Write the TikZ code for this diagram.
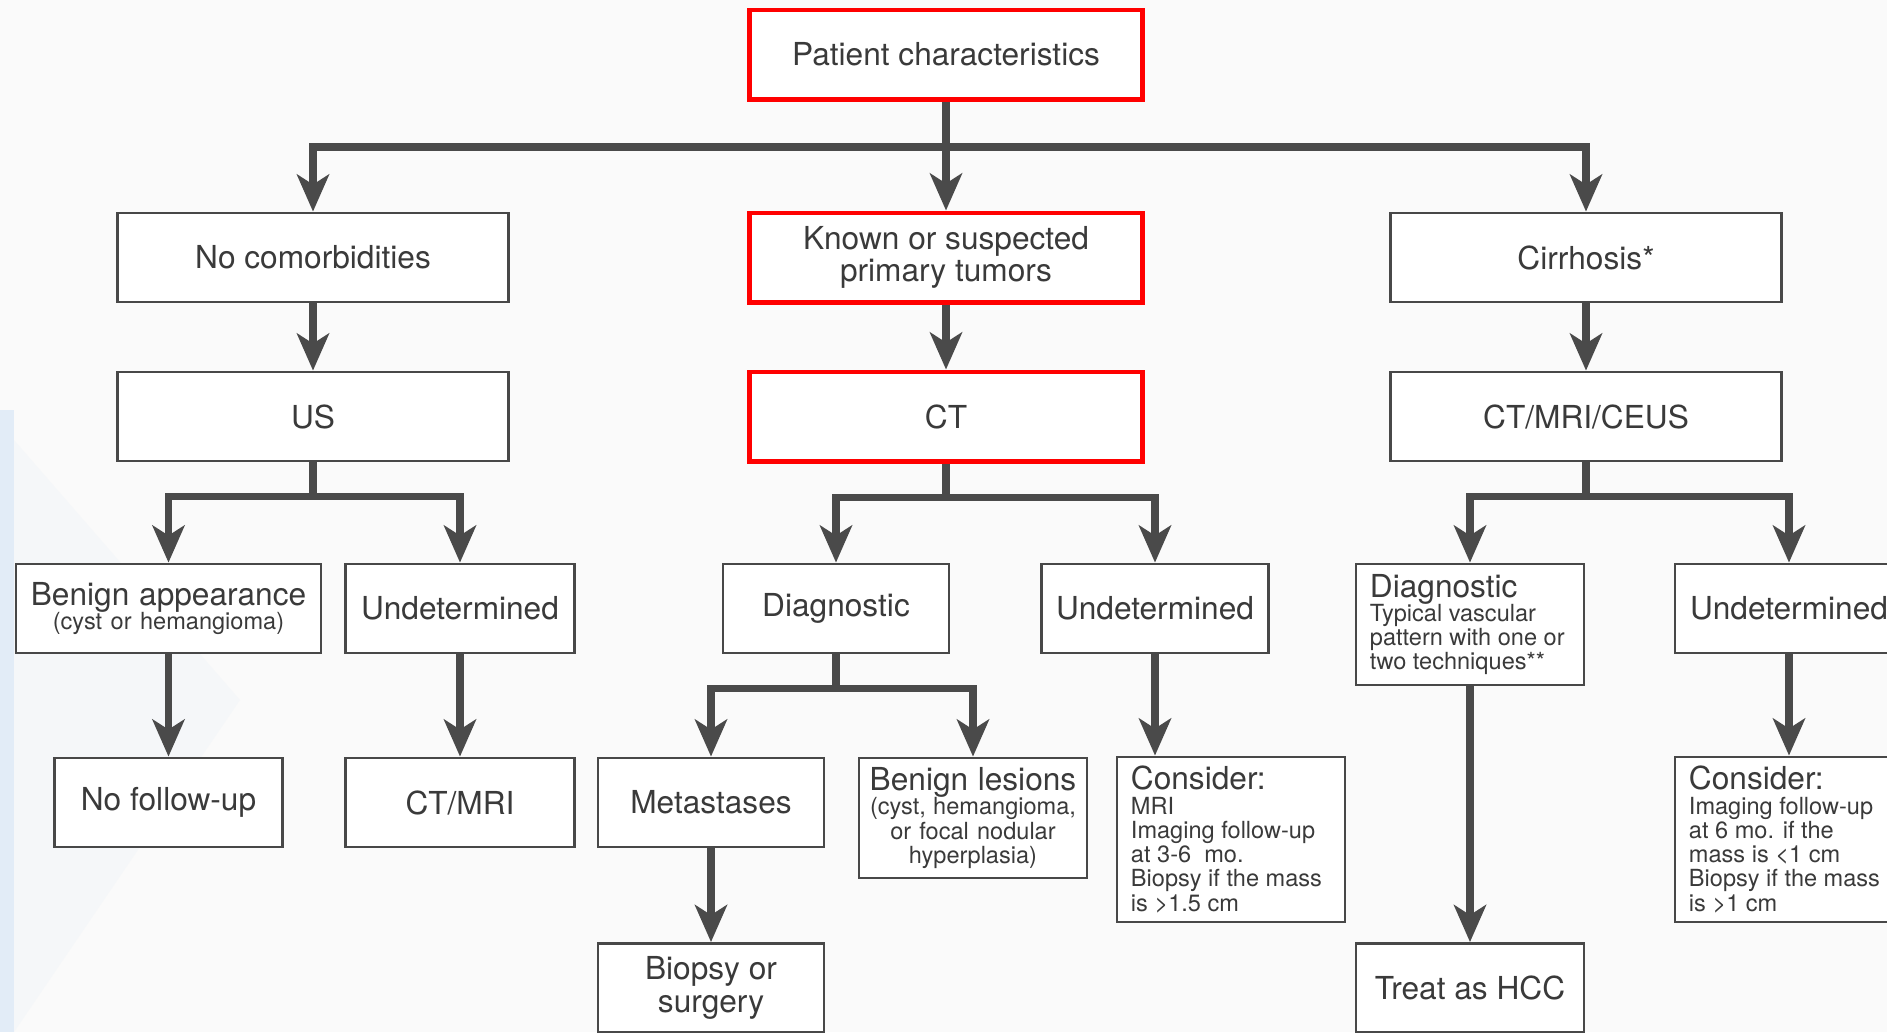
\documentclass[tikz,border=0pt]{standalone}
\usepackage{fontspec}
\setmainfont{TeX Gyre Heros}
\usetikzlibrary{arrows.meta, calc}
\definecolor{boxgray}{RGB}{72,72,72}
\definecolor{linegray}{RGB}{74,74,74}
\definecolor{txtgray}{RGB}{58,58,58}
\definecolor{boxred}{RGB}{255,0,0}
\definecolor{paper}{RGB}{250,250,250}
\definecolor{tint}{RGB}{226,236,247}
\newcommand{\nat}{\spaceskip=0pt\xspaceskip=0pt\relax}
\newcommand{\bigtxt}{\fontsize{9}{9.3}\selectfont}
\newcommand{\smalltxt}{\fontsize{6.7}{6.9}\selectfont\nat}
% break before the last line of a small block
\newcommand{\lastbr}{\\[-2.4pt]}
\tikzset{
  box/.style={draw=boxgray, line width=0.8pt, fill=white, text=txtgray,
    font=\bigtxt, inner sep=0pt, minimum height=0.89cm, align=center},
  redbox/.style={box, draw=boxred, line width=1.4pt},
  notebox/.style={box, align=left, inner xsep=0.14cm, text width=2cm},
  link/.style={draw=linegray, line width=2pt,
    -{Stealth[length=3.7mm, width=3.2mm, inset=1mm]}},
  stem/.style={draw=linegray, line width=2pt},
  bar/.style={stem, line cap=rect}
}
\begin{document}
\begin{tikzpicture}[x=0.01cm, y=-0.01cm]
\useasboundingbox (0,0) rectangle (1887,1032);
\clip (0,0) rectangle (1887,1032);
% backdrop
\fill[paper] (0,0) rectangle (1887,1032);
\fill[tint] (0,410) rectangle (14,1032);
\fill[tint, opacity=0.2] (14,440) -- (240,700) -- (14,1032) -- cycle;
% top levels
\node[redbox, minimum width=3.92cm] (patient) at (946,54.5) {Patient characteristics};
\node[box, minimum width=3.9cm] (nocom) at (313,257.5) {No comorbidities};
\node[redbox, minimum width=3.92cm] (primary) at (946,257.5) {Known or suspected\\primary tumors};
\node[box, minimum width=3.9cm] (cirr) at (1586,257.5) {Cirrhosis*};
\node[box, minimum width=3.9cm] (us) at (313,416.5) {US};
\node[redbox, minimum width=3.92cm] (ct) at (946,416.5) {CT};
\node[box, minimum width=3.9cm] (ceus) at (1586,416.5) {CT/MRI/CEUS};
% findings
\node[box, text width=3.05cm] (benapp) at (168.5,608.5)
  {\nat Benign appearance\lastbr\smalltxt(cyst or hemangioma)};
\node[box, minimum width=2.29cm] (undus) at (460,608.5) {Undetermined};
\node[box, minimum width=2.26cm] (diagct) at (836,608.5) {Diagnostic};
\node[box, minimum width=2.27cm] (undct) at (1155,608.5) {Undetermined};
\node[notebox, minimum height=1.21cm] (diagcir) at (1470,624.5)
  {Diagnostic\\\smalltxt Typical vascular\\pattern with one or\lastbr two techniques**};
\node[box, minimum width=2.28cm] (undcir) at (1789,608.5) {Undetermined};
% outcomes
\node[box, minimum width=2.28cm] (nofol) at (168.5,802.5) {No follow-up};
\node[box, minimum width=2.29cm] (ctmri) at (460,802.5) {CT/MRI};
\node[box, minimum width=2.26cm] (mets) at (711,802.5) {Metastases};
\node[box, text width=2.28cm, minimum height=1.2cm] (benles) at (973,818)
  {\nat Benign lesions\\\smalltxt(cyst, hemangioma,\\or focal nodular\lastbr hyperplasia)};
\node[notebox, minimum height=1.65cm] (conct) at (1231,839.5)
  {Consider:\\\smalltxt MRI\\Imaging follow-up\\at 3-6\ \ mo.\\Biopsy if the mass\lastbr is >1.5 cm};
\node[notebox, minimum height=1.65cm] (concir) at (1789,839.5)
  {Consider:\\\smalltxt Imaging follow-up\\at 6 mo. if the\\mass is <1 cm\\Biopsy if the mass\lastbr is >1 cm};
\node[box, minimum width=2.26cm] (biopsy) at (711,988) {Biopsy or\\surgery};
\node[box, minimum width=2.28cm] (hcc) at (1470,988) {Treat as HCC};
% forks
\coordinate (forktop) at (946,147);
\draw[stem] (patient.south) -- (forktop);
\draw[bar] (nocom.north |- forktop) -- (cirr.north |- forktop);
\foreach \kid in {nocom, primary, cirr}
  \draw[link] (\kid.north |- forktop) -- (\kid.north);
\foreach \up/\down in {nocom/us, primary/ct, cirr/ceus}
  \draw[link] (\up.south) -- (\down.north);
\foreach \mid/\lft/\rgt in {us/benapp/undus, ct/diagct/undct, ceus/diagcir/undcir}{
  \coordinate (fork-\mid) at ($(\mid.south)+(0,34)$);
  \draw[stem] (\mid.south) -- (fork-\mid);
  \draw[bar] (\lft.north |- fork-\mid) -- (\rgt.north |- fork-\mid);
  \draw[link] (\lft.north |- fork-\mid) -- (\lft.north);
  \draw[link] (\rgt.north |- fork-\mid) -- (\rgt.north);
}
\coordinate (forkdiag) at (836,688);
\draw[stem] (diagct.south) -- (forkdiag);
\draw[bar] (mets.north |- forkdiag) -- (benles.north |- forkdiag);
\foreach \kid in {mets, benles}
  \draw[link] (\kid.north |- forkdiag) -- (\kid.north);
% single steps
\draw[link] (benapp.south) -- (nofol.north);
\draw[link] (undus.south) -- (ctmri.north);
\draw[link] (undct.south) -- (undct.south |- conct.north);
\draw[link] (undcir.south) -- (concir.north);
\draw[link] (diagcir.south) -- (hcc.north);
\draw[link] (mets.south) -- (biopsy.north);
\end{tikzpicture}
\end{document}
